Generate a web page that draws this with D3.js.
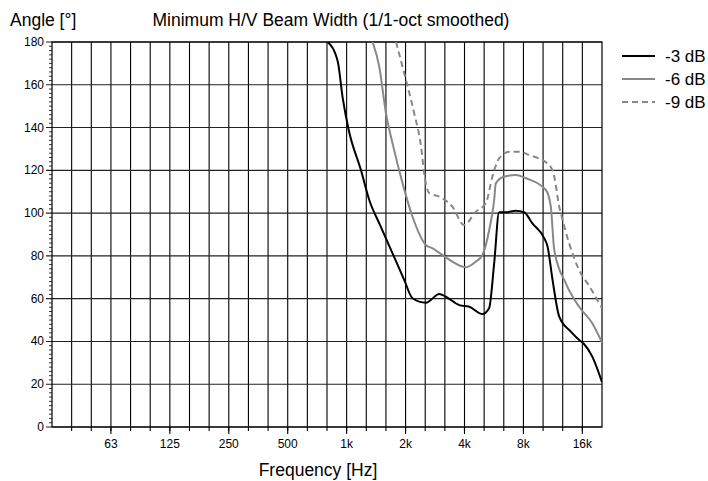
<!DOCTYPE html>
<html>
<head>
<meta charset="utf-8">
<script src="https://cdn.jsdelivr.net/npm/d3@7"></script>
<style>
  body { margin: 0; background: #fff; }
  text { font-family: "Liberation Sans", Arial, sans-serif; fill: #000; }
</style>
</head>
<body>
<svg id="chart" width="708" height="481"></svg>
<script>
// -3 dB curve
const freq3 = [800, 900, 954, 1024, 1184, 1306, 1480, 1700, 1970, 2170, 2540, 2975, 3210, 3760, 4230, 4940, 5340, 5670, 6010, 6510, 7300, 8060, 8890, 10230, 10630, 11270, 12190, 13970, 15410, 16320, 17980, 20160];
const val3 = [180, 171, 154, 139, 120, 106, 94.5, 82, 68.7, 60.2, 58.1, 62.2, 60.9, 57, 56.2, 52.8, 55.5, 76.5, 100.4, 100.4, 101.1, 100.4, 95.2, 88.2, 84.3, 68.7, 51.6, 44.6, 40.7, 38.8, 32.9, 21];
// -6 dB curve
const freq6 = [1357, 1468, 1588, 1716, 1931, 2171, 2540, 2750, 3210, 4060, 4570, 4940, 5350, 5670, 5780, 6350, 7300, 8240, 10420, 11040, 11500, 13170, 15410, 17980, 20160];
const val6 = [180, 168.4, 146.7, 132.6, 113.9, 98.3, 85.1, 83.5, 79.3, 74.7, 77.3, 80.4, 92.1, 106.1, 113.9, 117, 117.8, 116.3, 110.8, 103, 82.7, 67.2, 56.2, 48.5, 39.5];
// -9 dB curve
const freq9 = [1787, 2010, 2213, 2400, 2490, 2640, 2970, 3470, 3980, 4570, 5140, 5550, 6010, 6760, 7610, 8540, 10820, 11500, 12190, 12430, 13690, 15410, 17440, 20160];
const val9 = [180, 162.2, 146.7, 131, 118.6, 109.3, 107.7, 103, 94.4, 100.7, 104.6, 117, 125.6, 128.7, 128.7, 127.2, 122.5, 117, 103, 99.9, 85.9, 73.4, 65.6, 55.5];

const seriesNames = ["-3 dB", "-6 dB", "-9 dB"];
const xTickFreqs = [62.5, 125, 250, 500, 1000, 2000, 4000, 8000, 16000];
const xTickLabels = ["63", "125", "250", "500", "1k", "2k", "4k", "8k", "16k"];
const yTicks = [0, 20, 40, 60, 80, 100, 120, 140, 160, 180];

const svg = d3.select("#chart");
const mLeft = 52, mRight = 602, mTop = 42, mBottom = 427;

const x = d3.scaleLog().domain([1000 * Math.pow(2, -5), 1000 * Math.pow(2, 13 / 3)]).range([mLeft, mRight]);
const y = d3.scaleLinear().domain([0, 180]).range([mBottom, mTop]);

// third-octave grid
const thirds = d3.range(-14, 13).map(k => 1000 * Math.pow(2, k / 3));

const g = svg.append("g");

g.selectAll(".vgrid")
  .data(thirds)
  .enter()
  .append("line")
  .attr("class", "vgrid")
  .attr("x1", d => x(d)).attr("x2", d => x(d))
  .attr("y1", mTop).attr("y2", mBottom + 4)
  .style("stroke", "#000")
  .style("stroke-width", 1.1);

// longer ticks under labels
g.selectAll(".xmajor")
  .data(xTickFreqs)
  .enter()
  .append("line")
  .attr("x1", d => x(d)).attr("x2", d => x(d))
  .attr("y1", mBottom).attr("y2", mBottom + 7)
  .style("stroke", "#000")
  .style("stroke-width", 1.1);

g.selectAll(".hgrid")
  .data(yTicks)
  .enter()
  .append("line")
  .attr("x1", mLeft - 6).attr("x2", mRight)
  .attr("y1", d => y(d)).attr("y2", d => y(d))
  .style("stroke", "#222")
  .style("stroke-width", 1.1);

// minor y ticks
g.selectAll(".yminor")
  .data(d3.range(0, 181, 2).filter(v => v % 20 !== 0))
  .enter()
  .append("line")
  .attr("x1", mLeft - 3).attr("x2", mLeft)
  .attr("y1", d => y(d)).attr("y2", d => y(d))
  .style("stroke", "#000")
  .style("stroke-width", 0.8);

// frame
g.append("rect")
  .attr("x", mLeft).attr("y", mTop)
  .attr("width", mRight - mLeft).attr("height", mBottom - mTop)
  .style("fill", "none")
  .style("stroke", "#000")
  .style("stroke-width", 1.2);

// labels
g.selectAll(".ylab")
  .data(yTicks)
  .enter()
  .append("text")
  .attr("x", mLeft - 8)
  .attr("y", d => y(d) + 4)
  .attr("text-anchor", "end")
  .style("font-size", "12px")
  .text(d => d);

g.selectAll(".xlab")
  .data(xTickFreqs)
  .enter()
  .append("text")
  .attr("x", d => x(d))
  .attr("y", 448)
  .attr("text-anchor", "middle")
  .style("font-size", "12px")
  .text((d, i) => xTickLabels[i]);

svg.append("text").attr("x", 10).attr("y", 26).style("font-size", "17.5px").text("Angle [°]");
svg.append("text").attr("x", 331).attr("y", 26).attr("text-anchor", "middle").style("font-size", "17.5px")
  .text("Minimum H/V Beam Width (1/1-oct smoothed)");
svg.append("text").attr("x", 318).attr("y", 476).attr("text-anchor", "middle").style("font-size", "17.5px")
  .text("Frequency [Hz]");

// curves
const series = [
  { name: seriesNames[0], f: freq3, v: val3, color: "#000", dash: null },
  { name: seriesNames[1], f: freq6, v: val6, color: "#888", dash: null },
  { name: seriesNames[2], f: freq9, v: val9, color: "#888", dash: "6,4" }
];

const line = d3.line()
  .x(d => x(d[0]))
  .y(d => y(d[1]))
  .curve(d3.curveMonotoneX);

svg.append("defs").append("clipPath").attr("id", "clip")
  .append("rect").attr("x", mLeft).attr("y", mTop).attr("width", mRight - mLeft).attr("height", mBottom - mTop);

svg.append("g").attr("clip-path", "url(#clip)")
  .selectAll("path")
  .data(series.slice().reverse())
  .enter()
  .append("path")
  .attr("d", s => line(s.f.map((f, i) => [f, s.v[i]])))
  .style("fill", "none")
  .style("stroke", s => s.color)
  .style("stroke-width", 2)
  .style("stroke-dasharray", s => s.dash);

// legend
const lg = svg.append("g").selectAll("g")
  .data(series)
  .enter()
  .append("g")
  .attr("transform", (d, i) => `translate(622, ${56 + i * 23})`);
lg.append("line")
  .attr("x1", 0).attr("x2", 33)
  .style("stroke", d => d.color)
  .style("stroke-width", 2)
  .style("stroke-dasharray", d => d.dash);
lg.append("text")
  .attr("x", 43).attr("y", 6)
  .style("font-size", "17px")
  .text(d => d.name);
</script>
</body>
</html>
